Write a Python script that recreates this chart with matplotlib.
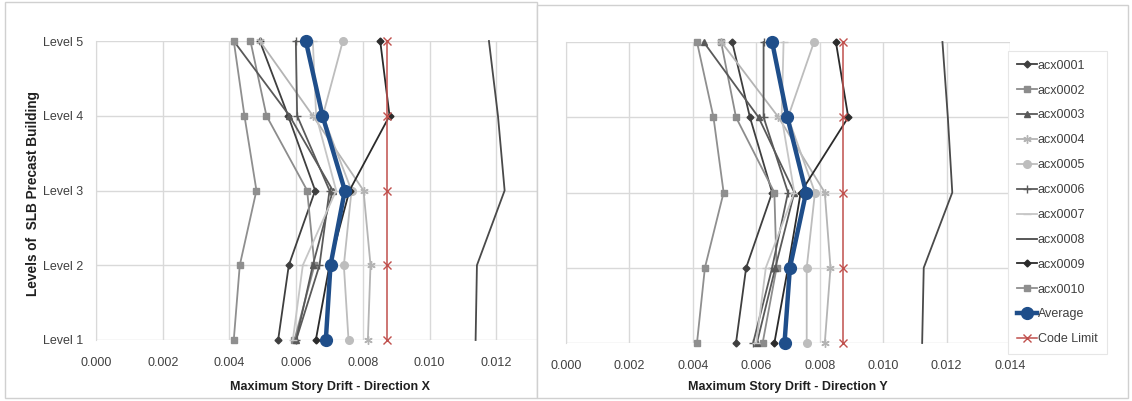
import matplotlib
matplotlib.use("Agg")
import matplotlib.pyplot as plt
from matplotlib.patches import Rectangle

plt.rcParams['font.family'] = ['Liberation Sans', 'DejaVu Sans']

LEVELS = [1, 2, 3, 4, 5]
LEVEL_LABELS = ["Level 1", "Level 2", "Level 3", "Level 4", "Level 5"]
SERIES_NAMES = ["acx0001", "acx0002", "acx0003", "acx0004", "acx0005",
                "acx0006", "acx0007", "acx0008", "acx0009", "acx0010"]

# drift values per level (Level 1 .. Level 5), direction X
X_DRIFT = [
    [0.00546, 0.00578, 0.00657, 0.00576, 0.00491],
    [0.00595, 0.00655, 0.00633, 0.00511, 0.00463],
    [0.00600, 0.00650, 0.00710, 0.00580, 0.00413],
    [0.00815, 0.00823, 0.00802, 0.00650, 0.00491],
    [0.00757, 0.00743, 0.00766, 0.00680, 0.00740],
    [0.00600, 0.00670, 0.00700, 0.00603, 0.00599],
    [0.00590, 0.00620, 0.00720, 0.00660, 0.00650],
    [0.01138, 0.01142, 0.01225, 0.01205, 0.01178],
    [0.00659, 0.00700, 0.00760, 0.00880, 0.00852],
    [0.00413, 0.00431, 0.00481, 0.00445, 0.00413],
]
X_AVERAGE = [0.00689, 0.00703, 0.00746, 0.00679, 0.00629]
X_CODE_LIMIT = [0.00873, 0.00873, 0.00873, 0.00873, 0.00873]

# direction Y
Y_DRIFT = [
    [0.00536, 0.00568, 0.00650, 0.00580, 0.00524],
    [0.00620, 0.00664, 0.00657, 0.00536, 0.00489],
    [0.00602, 0.00660, 0.00720, 0.00607, 0.00434],
    [0.00816, 0.00834, 0.00816, 0.00670, 0.00490],
    [0.00759, 0.00759, 0.00785, 0.00700, 0.00782],
    [0.00590, 0.00650, 0.00700, 0.00623, 0.00623],
    [0.00600, 0.00630, 0.00720, 0.00680, 0.00686],
    [0.01123, 0.01128, 0.01218, 0.01204, 0.01187],
    [0.00657, 0.00700, 0.00740, 0.00890, 0.00851],
    [0.00413, 0.00438, 0.00497, 0.00465, 0.00413],
]
Y_AVERAGE = [0.00689, 0.00706, 0.00757, 0.00698, 0.00650]
Y_CODE_LIMIT = [0.00872, 0.00872, 0.00872, 0.00872, 0.00872]

X_TICKS = [0.000, 0.002, 0.004, 0.006, 0.008, 0.010, 0.012, 0.014]

# (color, marker, markersize) for each run
STYLES = [
    ("#3f3f3f", "D", 3.5),
    ("#8c8c8c", "s", 5),
    ("#595959", "^", 4.5),
    ("#b4b4b4", (6, 2, 0), 6),
    ("#bdbdbd", "o", 5.5),
    ("#5a5a5a", "+", 6),
    ("#c6c6c6", "_", 6),
    ("#4a4a4a", "None", 0),
    ("#2b2b2b", "D", 3.5),
    ("#8f8f8f", "s", 5),
]
BLUE = "#1f4e8a"
RED = "#c0504d"
GRID = "#d9d9d9"
TEXT = "#404040"
W, H = 1132, 401


def fig_box(left, top, right, bottom):
    """ pixel box -> figure fraction rect """
    return [left / W, 1 - bottom / H, (right - left) / W, (bottom - top) / H]


def draw_panel(ax, drift, average, limit, ylabels, last_tick):
    for i, vals in enumerate(drift):
        color, marker, ms = STYLES[i]
        ax.plot(vals, LEVELS, color=color, marker=marker, markersize=ms,
                markeredgecolor=color, linewidth=1.3, label=SERIES_NAMES[i],
                zorder=3, clip_on=False)
    ax.plot(average, LEVELS, color=BLUE, marker="o", markersize=8.5,
            linewidth=3.2, label="Average", zorder=5, clip_on=False)
    ax.plot(limit, LEVELS, color=RED, marker="x", markersize=5.5,
            linewidth=1.1, label="Code Limit", zorder=6, clip_on=False)

    ax.set_xlim(0, 0.014)
    ax.set_ylim(1, 5)
    ax.set_xticks(X_TICKS)
    labels = ["%.3f" % t for t in X_TICKS]
    if not last_tick:
        labels[-1] = ""  # hidden under the other chart
    ax.set_xticklabels(labels, fontsize=9, color=TEXT)
    ax.set_yticks(LEVELS)
    if ylabels:
        ax.set_yticklabels(LEVEL_LABELS, fontsize=9, color=TEXT)
    else:
        ax.set_yticklabels([])
    ax.tick_params(length=0, pad=9)
    ax.tick_params(axis="x", pad=12)
    ax.grid(True, color=GRID, linewidth=1)
    ax.set_axisbelow(True)
    for side in ["top", "right", "bottom"]:
        ax.spines[side].set_visible(False)
    ax.spines["left"].set_color(GRID)


def main():
    fig = plt.figure(figsize=(W / 100, H / 100), dpi=100)

    # left chart frame
    fig.patches.append(Rectangle((5 / W, 1 - 398 / H), 532 / W, 396 / H,
                                 transform=fig.transFigure, fill=False,
                                 edgecolor="#d0d0d0", linewidth=1, zorder=0))

    # left plot area runs to 0.014 but the right chart sits over its end
    ax1 = fig.add_axes(fig_box(96, 41, 563, 340))
    ax1.set_zorder(0)
    draw_panel(ax1, X_DRIFT, X_AVERAGE, X_CODE_LIMIT, True, False)
    ax1.set_xlabel("Maximum Story Drift - Direction X", fontsize=9,
                   fontweight="bold", color="#202020")
    ax1.xaxis.set_label_coords(0.5, -0.136)
    ax1.set_ylabel("Levels of  SLB Precast Building", fontsize=9.8,
                   fontweight="bold", color="#202020")
    ax1.yaxis.label.set_va("center")
    ax1.yaxis.set_label_coords(-0.135, 0.49)

    # right chart frame, drawn over the left plot
    fig.patches.append(Rectangle((537 / W, 1 - 398 / H), 591 / W, 393 / H,
                                 transform=fig.transFigure, facecolor="white",
                                 edgecolor="#d0d0d0", linewidth=1, zorder=1))

    ax2 = fig.add_axes(fig_box(566, 42, 1010, 343))
    ax2.set_zorder(2)
    ax2.patch.set_alpha(0)
    draw_panel(ax2, Y_DRIFT, Y_AVERAGE, Y_CODE_LIMIT, False, True)
    ax2.set_xlabel("Maximum Story Drift - Direction Y", fontsize=9,
                   fontweight="bold", color="#202020")
    ax2.xaxis.set_label_coords(0.5, -0.126)

    leg = ax2.legend(loc="upper left", bbox_to_anchor=(1008 / W, 1 - 51 / H),
                     bbox_transform=fig.transFigure, fontsize=9,
                     frameon=True, fancybox=False, framealpha=1,
                     edgecolor="#e6e6e6", handlelength=1.6,
                     handletextpad=0.1, labelspacing=1.03,
                     borderpad=0.7, borderaxespad=0)
    leg.get_frame().set_linewidth(0.8)
    for t in leg.get_texts():
        t.set_color(TEXT)
    leg.set_zorder(10)

    fig.savefig("out.png", dpi=100)


main()
